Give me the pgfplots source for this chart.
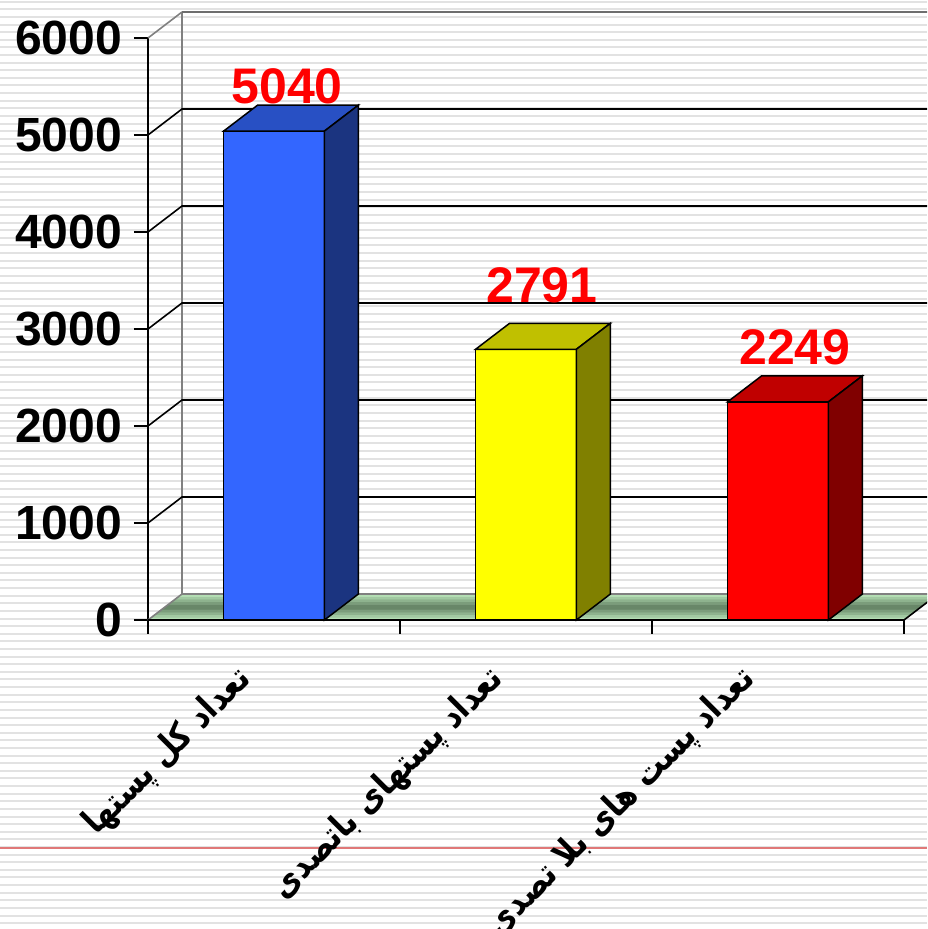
\documentclass[border=0pt]{standalone}
\usepackage{pgfplots}
\pgfplotsset{compat=1.18}
\usepackage{fontspec}
\setmainfont{Liberation Sans}
\newfontfamily\arabicfont[Script=Arabic, FakeStretch=0.85]{DejaVu Sans}
\TeXXeTstate=1
\definecolor{stripe}{HTML}{E2E2E2}
\definecolor{redline}{HTML}{E07878}
\definecolor{blueF}{HTML}{3366FF}
\definecolor{blueT}{HTML}{2850C4}
\definecolor{blueS}{HTML}{1B3480}
\definecolor{yelF}{HTML}{FFFF00}
\definecolor{yelT}{HTML}{C0C000}
\definecolor{yelS}{HTML}{808000}
\definecolor{redF}{HTML}{FF0000}
\definecolor{redT}{HTML}{C00000}
\definecolor{redS}{HTML}{800000}
\definecolor{flLight}{HTML}{BEEABE}
\definecolor{flDark}{HTML}{5E7C5E}
\definecolor{wallgray}{HTML}{808080}
\definecolor{topgray}{HTML}{6E6E6E}
\begin{document}
\begin{tikzpicture}
\useasboundingbox (0,0) rectangle (463.5pt,464.5pt);
\clip (0,0) rectangle (463.5pt,464.5pt);
\fill[white] (0,0) rectangle (463.5pt,464.5pt);
\foreach \k in {0,...,122} {
  \pgfmathsetmacro\yy{464.5-0.5*(1.7+7.615*\k)}
  \draw[stripe, line width=1pt] (0pt,\yy pt) -- (463.5pt,\yy pt);
}
\draw[redline, line width=0.7pt] (0pt,40.5pt) -- (463.5pt,40.5pt);
\begin{axis}[
  at={(74pt,154.5pt)}, anchor=south west,
  scale only axis, width=378pt, height=291pt,
  xmin=0, xmax=3, ymin=0, ymax=6000,
  clip=false,
  axis x line*=bottom, axis y line*=left,
  axis line style={black, line width=0.8pt, -},
  tick style={black, line width=0.8pt},
  tick align=outside, major tick length=7pt,
  ytick={0,1000,2000,3000,4000,5000,6000},
  /pgf/number format/1000 sep={},
  /pgf/number format/assume math mode=true,
  yticklabel style={font=\fontsize{24}{24}\selectfont\bfseries, xshift=-2.5pt},
  xtick={0,1,2,3}, xticklabels={},
  extra x ticks={0.5,1.5,2.5},
  extra x tick labels={{\arabicfont\bfseries\beginR تعداد کل پستها\endR},{\arabicfont\bfseries\beginR تعداد پستهای باتصدی\endR},{\arabicfont\bfseries\beginR تعداد پست های بلا تصدی\endR}},
  extra x tick style={major tick length=0pt, xticklabel style={anchor=east, xshift=-14pt, yshift=-27pt, rotate=45, font=\fontsize{17.5}{17.5}\selectfont, inner sep=0pt}},
]
% back wall and gridlines
\addplot[wallgray, line width=0.8pt] coordinates {(0.135,268) (0.135,6268)};
\addplot[wallgray, line width=0.8pt] coordinates {(0,6000) (0.135,6268)};
\addplot[topgray, line width=1.2pt] coordinates {(0.135,6268) (3.2,6268)};
\addplot[black, line width=0.8pt] coordinates {(0,1000) (0.135,1268) (3.2,1268)};
\addplot[black, line width=0.8pt] coordinates {(0,2000) (0.135,2268) (3.2,2268)};
\addplot[black, line width=0.8pt] coordinates {(0,3000) (0.135,3268) (3.2,3268)};
\addplot[black, line width=0.8pt] coordinates {(0,4000) (0.135,4268) (3.2,4268)};
\addplot[black, line width=0.8pt] coordinates {(0,5000) (0.135,5268) (3.2,5268)};
% floor (gradient as strips)
\addplot[fill=flDark!10!flLight, draw=flDark!10!flLight, line width=0.2pt] coordinates {(0,0) (3,0) (3.0135,26.8) (0.0135,26.8)} -- cycle;
\addplot[fill=flDark!30!flLight, draw=flDark!30!flLight, line width=0.2pt] coordinates {(0.0135,26.8) (3.0135,26.8) (3.027,53.6) (0.027,53.6)} -- cycle;
\addplot[fill=flDark!50!flLight, draw=flDark!50!flLight, line width=0.2pt] coordinates {(0.027,53.6) (3.027,53.6) (3.0405,80.4) (0.0405,80.4)} -- cycle;
\addplot[fill=flDark!70!flLight, draw=flDark!70!flLight, line width=0.2pt] coordinates {(0.0405,80.4) (3.0405,80.4) (3.054,107.2) (0.054,107.2)} -- cycle;
\addplot[fill=flDark!90!flLight, draw=flDark!90!flLight, line width=0.2pt] coordinates {(0.054,107.2) (3.054,107.2) (3.0675,134) (0.0675,134)} -- cycle;
\addplot[fill=flDark!90!flLight, draw=flDark!90!flLight, line width=0.2pt] coordinates {(0.0675,134) (3.0675,134) (3.081,160.8) (0.081,160.8)} -- cycle;
\addplot[fill=flDark!70!flLight, draw=flDark!70!flLight, line width=0.2pt] coordinates {(0.081,160.8) (3.081,160.8) (3.0945,187.6) (0.0945,187.6)} -- cycle;
\addplot[fill=flDark!50!flLight, draw=flDark!50!flLight, line width=0.2pt] coordinates {(0.0945,187.6) (3.0945,187.6) (3.108,214.4) (0.108,214.4)} -- cycle;
\addplot[fill=flDark!30!flLight, draw=flDark!30!flLight, line width=0.2pt] coordinates {(0.108,214.4) (3.108,214.4) (3.1215,241.2) (0.1215,241.2)} -- cycle;
\addplot[fill=flDark!10!flLight, draw=flDark!10!flLight, line width=0.2pt] coordinates {(0.1215,241.2) (3.1215,241.2) (3.135,268) (0.135,268)} -- cycle;
\addplot[wallgray, line width=0.8pt] coordinates {(0,0) (0.135,268) (3.2,268)};
\addplot[black, line width=0.8pt] coordinates {(3,0) (3.135,268)};
\addplot[black, line width=0.8pt] coordinates {(0,0) (3,0)};
% bars: blue 5040
\addplot[draw=black, line width=0.75pt, fill=blueF] coordinates {(0.3,0) (0.7,0) (0.7,5040) (0.3,5040)} -- cycle;
\addplot[draw=black, line width=0.75pt, fill=blueT] coordinates {(0.3,5040) (0.7,5040) (0.835,5308) (0.435,5308)} -- cycle;
\addplot[draw=black, line width=0.75pt, fill=blueS] coordinates {(0.7,0) (0.835,268) (0.835,5308) (0.7,5040)} -- cycle;
% yellow 2791
\addplot[draw=black, line width=0.75pt, fill=yelF] coordinates {(1.3,0) (1.7,0) (1.7,2791) (1.3,2791)} -- cycle;
\addplot[draw=black, line width=0.75pt, fill=yelT] coordinates {(1.3,2791) (1.7,2791) (1.835,3059) (1.435,3059)} -- cycle;
\addplot[draw=black, line width=0.75pt, fill=yelS] coordinates {(1.7,0) (1.835,268) (1.835,3059) (1.7,2791)} -- cycle;
% red 2249
\addplot[draw=black, line width=0.75pt, fill=redF] coordinates {(2.3,0) (2.7,0) (2.7,2249) (2.3,2249)} -- cycle;
\addplot[draw=black, line width=0.75pt, fill=redT] coordinates {(2.3,2249) (2.7,2249) (2.835,2517) (2.435,2517)} -- cycle;
\addplot[draw=black, line width=0.75pt, fill=redS] coordinates {(2.7,0) (2.835,268) (2.835,2517) (2.7,2249)} -- cycle;
% value labels
\addplot[draw=none, mark=none, nodes near coords, point meta=explicit symbolic,
  nodes near coords style={anchor=south, inner sep=0pt, text=red, font=\fontsize{25}{25}\selectfont\bfseries}]
  coordinates {(0.552,5320)[5040] (1.563,3268)[2791] (2.567,2629)[2249]};
\end{axis}
\end{tikzpicture}
\end{document}
